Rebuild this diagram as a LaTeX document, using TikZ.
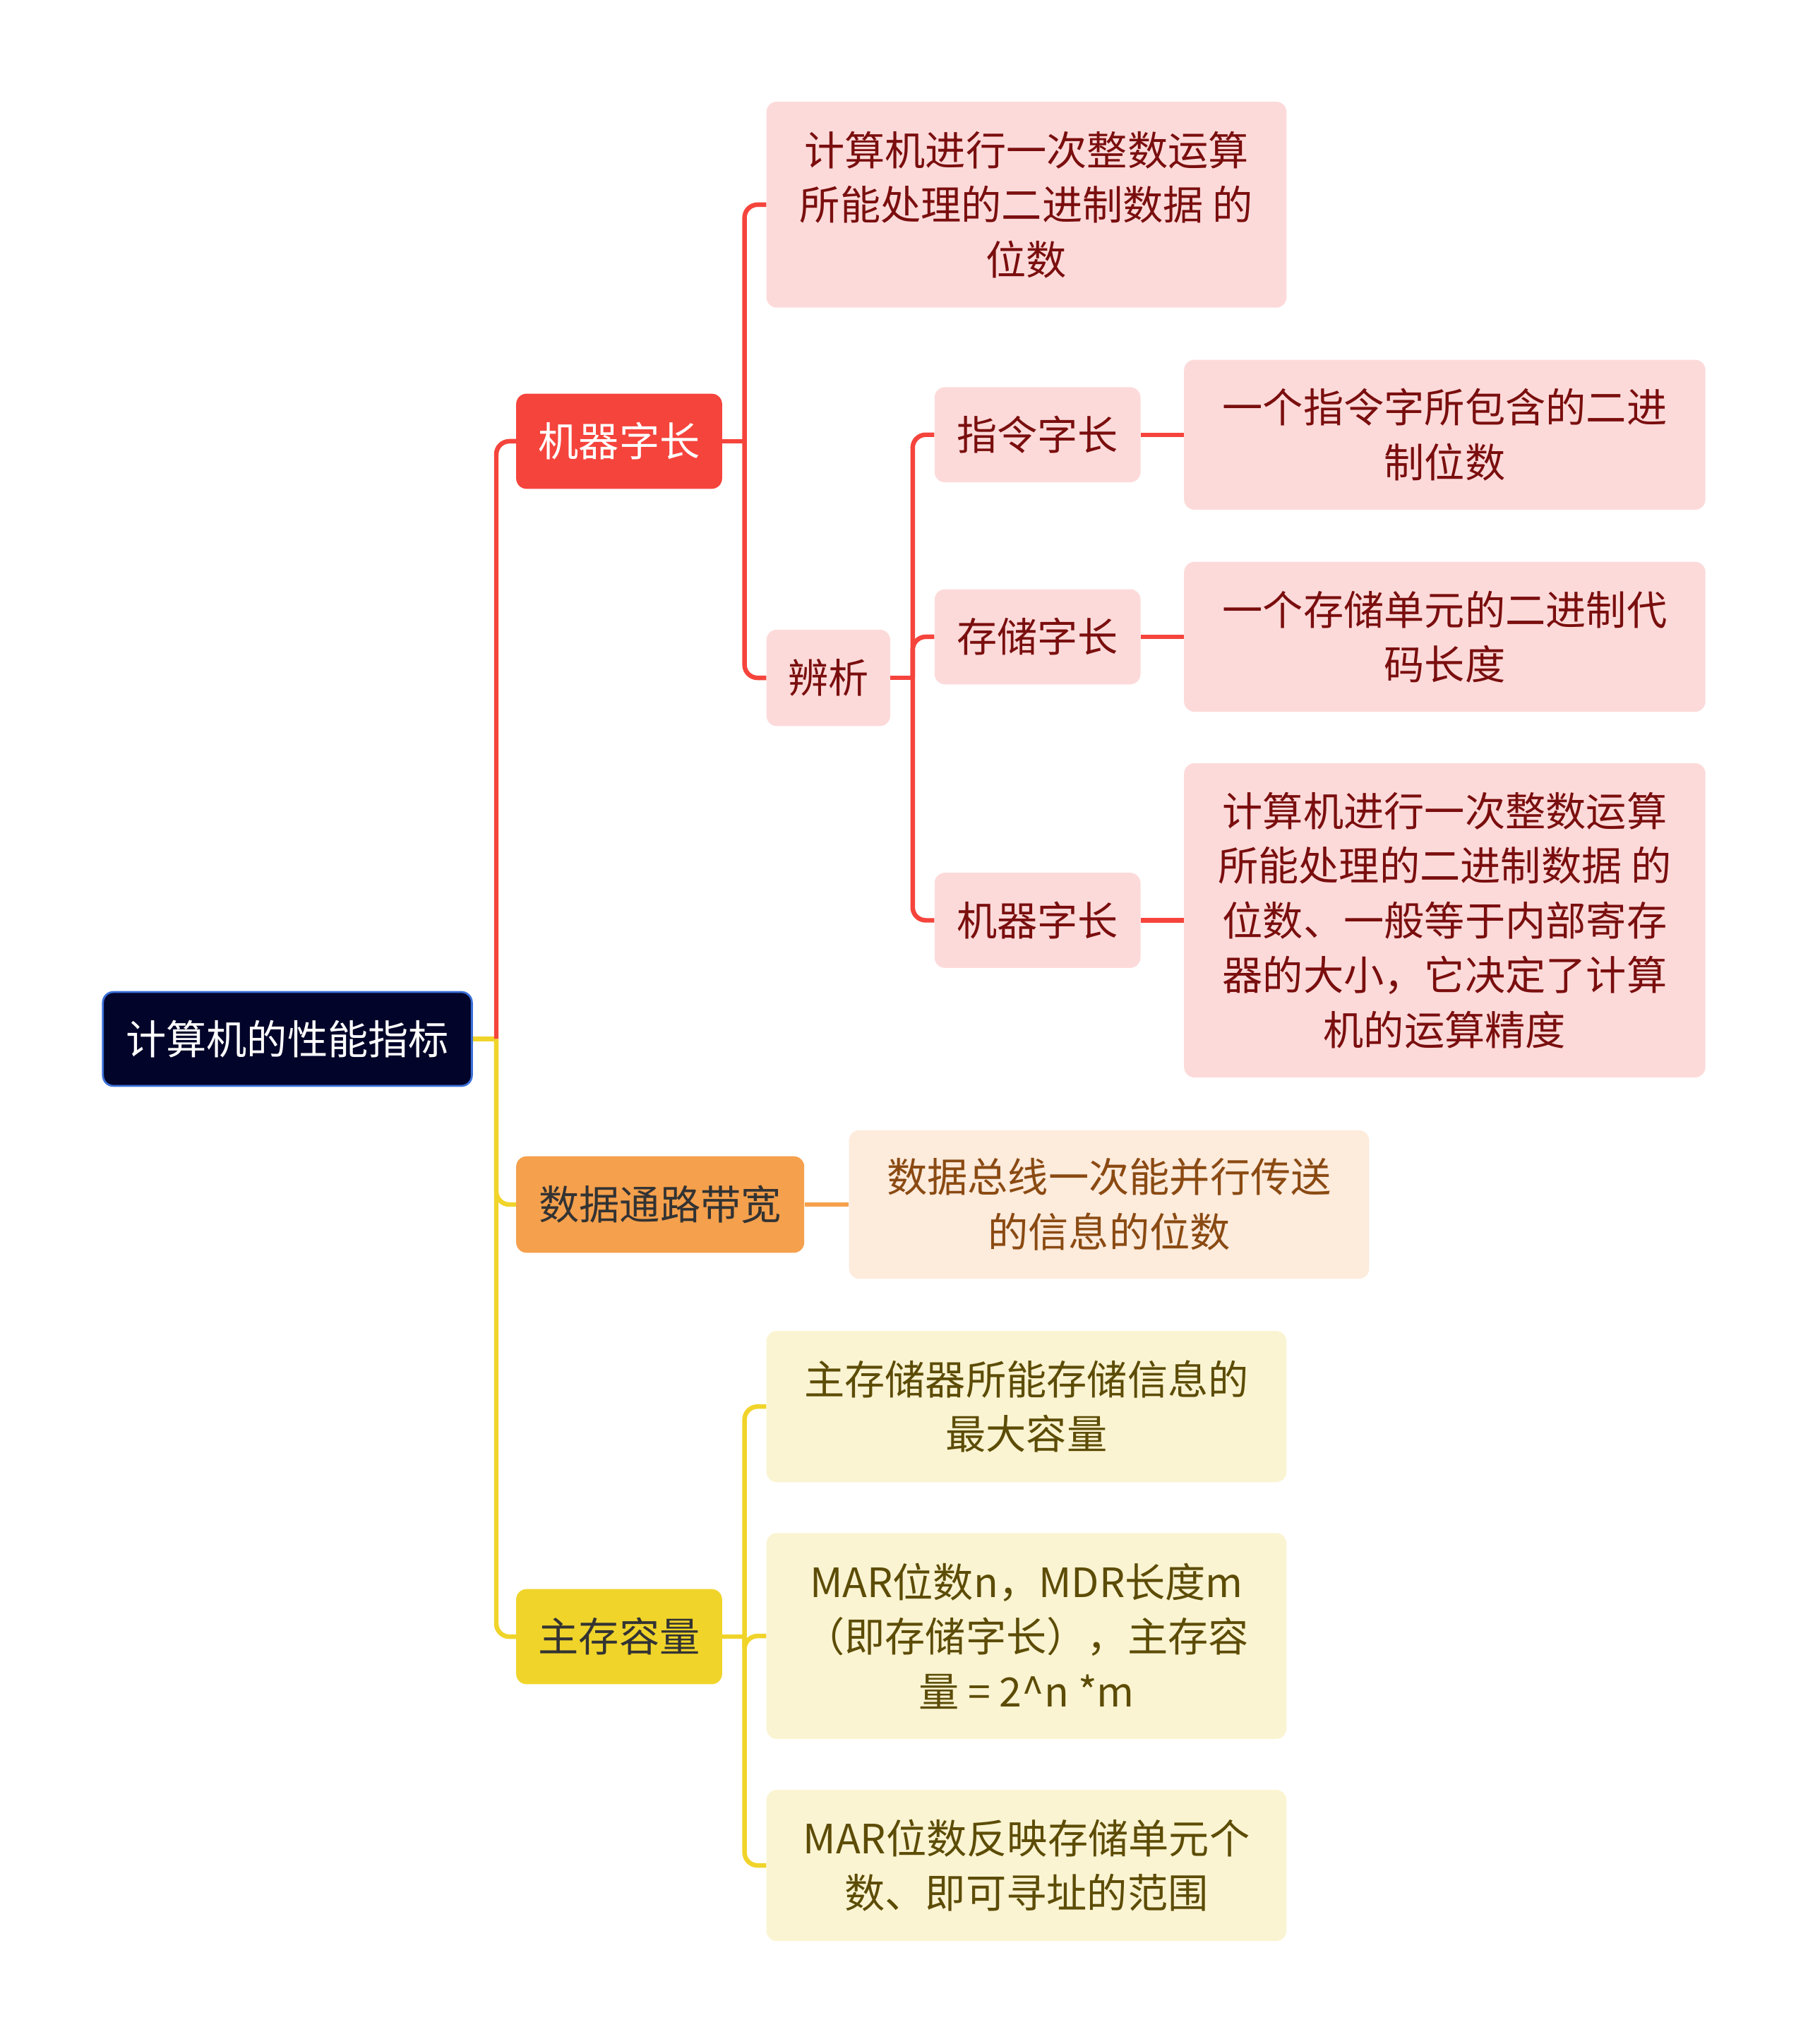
\documentclass[tikz,border=0pt]{standalone}
\usepackage{fontspec}
\usepackage{xcolor}
\usepackage{tikz}
\usetikzlibrary{arrows.meta,positioning,calc}
\newfontfamily\cjk{Noto Sans CJK SC}
\definecolor{rootbg}{HTML}{03042A}
\definecolor{rootbd}{HTML}{3B6FD8}
\definecolor{redmain}{HTML}{F5443C}
\definecolor{redleaf}{HTML}{FDDADA}
\definecolor{redtext}{HTML}{7A0E0E}
\definecolor{orgmain}{HTML}{F5A04C}
\definecolor{orgleaf}{HTML}{FDEBDC}
\definecolor{orgtext}{HTML}{8A4A12}
\definecolor{ylwmain}{HTML}{F0D42A}
\definecolor{ylwleaf}{HTML}{FBF4D2}
\definecolor{ylwtext}{HTML}{5C4C06}
\definecolor{darktext}{HTML}{333333}

\begin{document}
\begin{tikzpicture}[x=1pt,y=-1pt,
box/.style={rounded corners=8pt,inner sep=0pt,align=center,font=\cjk\fontsize{31}{42}\selectfont},
root/.style={box,draw=rootbd,line width=1.5pt,fill=rootbg,text=white,minimum width=283pt,minimum height=72pt},
topic/.style={box,minimum width=158pt,minimum height=73pt},
leaf/.style={box,minimum width=399pt},
rline/.style={draw=redmain,line width=3.5pt,rounded corners=10pt},
oline/.style={draw=orgmain,line width=3.5pt,rounded corners=10pt},
yline/.style={draw=ylwmain,line width=3.5pt,rounded corners=10pt}]
\useasboundingbox (0,0) rectangle (1387,1568);
% root and main topics
\node[root](perf) at (220.5,797){计算机的性能指标};
\node[topic,fill=redmain,text=white](wordlen) at (475,338.5){机器字长};
\node[topic,fill=orgmain,text=darktext,minimum width=221pt,minimum height=74pt](pathbw) at (506.5,924){数据通路带宽};
\node[topic,fill=ylwmain,text=darktext](memcap) at (475,1255.5){主存容量};
% word length branch
\node[leaf,fill=redleaf,text=redtext,minimum height=158pt](wordlenDef) at (787.5,157){计算机进行一次整数运算\\所能处理的二进制数据 的\\位数};
\node[topic,fill=redleaf,text=redtext,minimum width=95pt,minimum height=74pt](compare) at (635.5,520){辨析};
\node[topic,fill=redleaf,text=redtext](instrlen) at (796,333.5){指令字长};
\node[topic,fill=redleaf,text=redtext](storelen) at (796,488.5){存储字长};
\node[topic,fill=redleaf,text=redtext](machlen) at (796,706){机器字长};
\node[leaf,fill=redleaf,text=redtext,minimum width=400pt,minimum height=115pt,right=33pt of instrlen](instrDef){一个指令字所包含的二进\\制位数};
\node[leaf,fill=redleaf,text=redtext,minimum width=400pt,minimum height=115pt,right=33pt of storelen](storeDef){一个存储单元的二进制代\\码长度};
\node[leaf,fill=redleaf,text=redtext,minimum width=400pt,minimum height=241pt,right=33pt of machlen](machDef){计算机进行一次整数运算\\所能处理的二进制数据 的\\位数、一般等于内部寄存\\器的大小，它决定了计算\\机的运算精度};
% bandwidth branch
\node[leaf,fill=orgleaf,text=orgtext,minimum height=114pt,right=34pt of pathbw](pathbwDef){数据总线一次能并行传送\\的信息的位数};
% capacity branch
\node[leaf,fill=ylwleaf,text=ylwtext,minimum height=116pt](capDef) at (787.5,1079){主存储器所能存储信息的\\最大容量};
\node[leaf,fill=ylwleaf,text=ylwtext,minimum height=158pt](capCalc) at (787.5,1255){MAR位数n，MDR长度m\\（即存储字长），主存容\\量 = 2\textasciicircum n *m};
\node[leaf,fill=ylwleaf,text=ylwtext,minimum height=116pt](capRange) at (787.5,1431){MAR位数反映存储单元个\\数、即可寻址的范围};
% trunk points
\coordinate(perfT) at ($(perf.east)+(18,0)$);
\coordinate(wordlenT) at ($(wordlen.east)+(17,0)$);
\coordinate(compareT) at ($(compare.east)+(17,0)$);
\coordinate(memcapT) at ($(memcap.east)+(17,0)$);
% connectors
\draw[yline](perf.east)--(perfT);
\draw[rline](perfT)|-(wordlen.west);\draw[yline](perfT)|-(pathbw.west);\draw[yline](perfT)|-(memcap.west);
\draw[rline](wordlen.east)--(wordlenT);\draw[rline](wordlenT)|-(wordlenDef.west);\draw[rline](wordlenT)|-(compare.west);
\draw[rline](compare.east)--(compareT);\draw[rline](compareT)|-(instrlen.west);\draw[rline](compareT)|-(storelen.west);\draw[rline](compareT)|-(machlen.west);
\draw[rline](instrlen)--(instrDef);\draw[rline](storelen)--(storeDef);\draw[rline](machlen)--(machDef);
\draw[oline](pathbw)--(pathbwDef);
\draw[yline](memcap.east)--(memcapT);\draw[yline](memcapT)|-(capDef.west);\draw[yline](memcapT)|-(capCalc.west);\draw[yline](memcapT)|-(capRange.west);
\end{tikzpicture}
\end{document}
